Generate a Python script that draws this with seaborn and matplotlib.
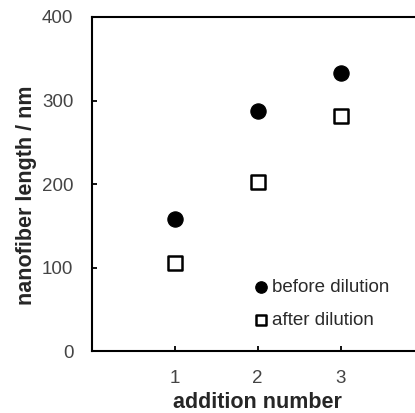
import numpy as np
import pandas as pd
import seaborn as sns
import matplotlib.pyplot as plt

# data
addition = [1, 2, 3]
before_dilution = [158, 287, 333]
after_dilution = [106, 203, 282]

df = pd.DataFrame({
    "addition number": addition * 2,
    "nanofiber length / nm": before_dilution + after_dilution,
    "sample": ["before dilution"] * 3 + ["after dilution"] * 3,
})

sns.set_style("ticks")
plt.rcParams['font.family'] = ['Liberation Sans', 'DejaVu Sans']

fig = plt.figure(figsize=(4.15, 4.13), dpi=100)
ax = fig.add_axes([0.2205, 0.149, 0.801, 0.81])

before = df[df["sample"] == "before dilution"]
after = df[df["sample"] == "after dilution"]
sns.scatterplot(data=before, x="addition number", y="nanofiber length / nm",
                marker="o", s=120, color="black", edgecolor="black",
                label="before dilution", ax=ax, zorder=3)
sns.scatterplot(data=after, x="addition number", y="nanofiber length / nm",
                marker="s", s=105, facecolor="white", edgecolor="black",
                linewidth=1.8, label="after dilution", ax=ax, zorder=3)

ax.set_xlim(0, 4)
ax.set_ylim(0, 400)
ax.set_xticks([1, 2, 3])
ax.set_yticks([0, 100, 200, 300, 400])
ax.tick_params(direction="in", length=3.5, width=1.3, labelsize=13.5,
               labelcolor="#444444", colors="black", pad=13)
ax.tick_params(axis="x", pad=13)

for sp in ax.spines.values():
    sp.set_linewidth(1.5)
    sp.set_color("black")

ax.set_xlabel("addition number", fontsize=15.5, fontweight="bold", labelpad=4)
ax.set_ylabel("nanofiber length / nm", fontsize=15.5, fontweight="bold")
ax.yaxis.set_label_coords(-0.165, 0.468)

leg = ax.legend(loc="upper left", bbox_to_anchor=(0.469, 0.244), frameon=False,
                fontsize=13.5, handlelength=0.5, handletextpad=0.3,
                labelspacing=0.82, markerscale=0.75, borderpad=0)
for t in leg.get_texts():
    t.set_color("#2a2a2a")

fig.savefig("out.png", dpi=100)
